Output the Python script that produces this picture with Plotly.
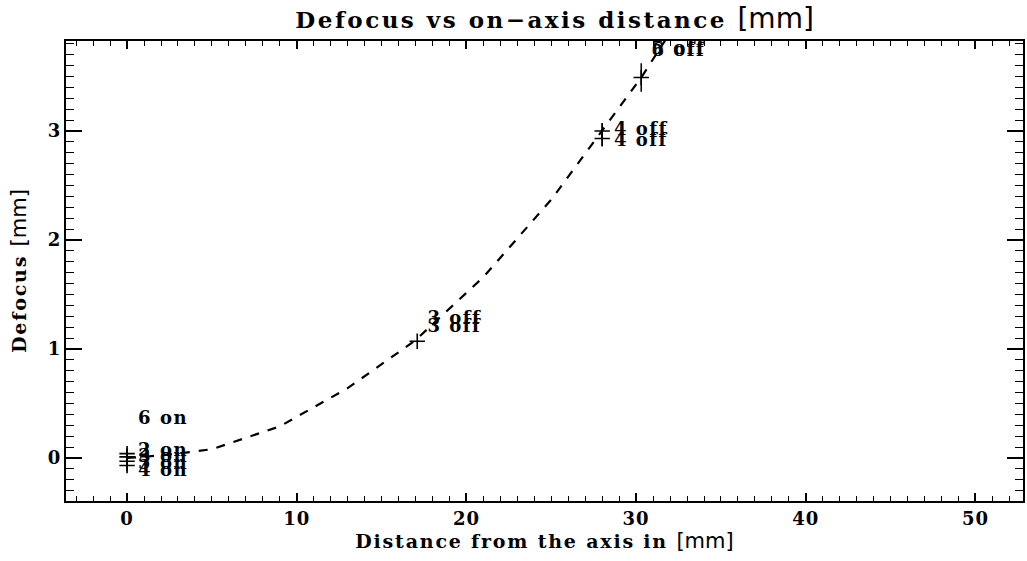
import plotly.graph_objects as go

# Model curve: defocus vs distance from the optical axis
curve_x = [0.0, 1.0, 3.0, 5.0, 9.0, 13.0, 17.0, 21.0, 25.0, 28.0, 30.3, 32.0]
curve_y = [0.0, 0.01, 0.04, 0.08, 0.29, 0.64, 1.08, 1.66, 2.37, 3.00, 3.49, 3.90]

# Measured positions (plus symbols) with their vertical spread
meas_x = [0.0, 0.0, 0.0, 0.0, 17.1, 28.0, 28.0, 30.3]
meas_y = [0.04, 0.01, -0.03, -0.07, 1.07, 3.00, 2.93, 3.49]
meas_err = [0.05, 0.05, 0.05, 0.05, 0.0, 0.07, 0.07, 0.13]

# Point annotations
lbl_text = ["6 on", "2 on", "3 on", "5 on", "4 on",
            "3 off", "3 off", "4 off", "4 off", "5 off", "6 off"]
lbl_x = [0.65, 0.65, 0.65, 0.65, 0.65, 17.7, 17.7, 28.7, 28.7, 30.9, 30.9]
lbl_y = [0.35, 0.06, 0.0, -0.06, -0.12, 1.27, 1.20, 3.00, 2.90, 3.75, 3.73]

x_ticks = [0, 10, 20, 30, 40, 50]
y_ticks = [0, 1, 2, 3]

SERIF = "DejaVu Serif"
SANS = "DejaVu Sans"


def spaced(s, px):
    return "<span style='letter-spacing:%spx'>%s</span>" % (px, s)


def mm(size):
    return ("<span style='font-family:%s;font-weight:normal;font-size:%dpx'>[mm]</span>"
            % (SANS, size))


fig = go.Figure()

fig.add_trace(go.Scatter(
    x=curve_x, y=curve_y, mode="lines",
    line=dict(color="black", width=2.2, dash="9px,9px"),
    hoverinfo="skip", showlegend=False,
))

fig.add_trace(go.Scatter(
    x=meas_x, y=meas_y, mode="markers",
    marker=dict(symbol="cross-thin", size=11, line=dict(color="black", width=1.6)),
    error_y=dict(type="data", array=meas_err, visible=True,
                 color="black", thickness=1.5, width=0),
    showlegend=False,
))

fig.add_trace(go.Scatter(
    x=lbl_x, y=lbl_y, mode="text", text=[spaced(t, 1.5) for t in lbl_text],
    textposition="middle right",
    textfont=dict(family=SERIF, size=18, color="black", weight="bold"),
    showlegend=False, cliponaxis=False,
))

axis_common = dict(
    showgrid=False, zeroline=False, showline=True, linecolor="black",
    linewidth=2, mirror="allticks", ticks="inside", tickcolor="black",
    tickwidth=1.5,
    tickfont=dict(family=SERIF, size=18, color="black", weight="bold"),
)

fig.update_xaxes(
    range=[-3.6, 52.8], tickvals=x_ticks, ticktext=[spaced(str(v), 1) for v in x_ticks],
    ticklen=8,
    minor=dict(dtick=1, ticks="inside", ticklen=5, tickcolor="black", tickwidth=1.3),
    title=dict(text=spaced("Distance from the axis in ", 1.8) + mm(21),
               font=dict(family=SERIF, size=19, color="black", weight="bold"),
               standoff=6),
    **axis_common,
)
fig.update_yaxes(
    range=[-0.395, 3.825], tickvals=y_ticks, ticklen=16,
    minor=dict(dtick=0.1, ticks="inside", ticklen=8, tickcolor="black", tickwidth=1.3),
    title=dict(text=spaced("Defocus ", 1.8) + mm(21),
               font=dict(family=SERIF, size=19, color="black", weight="bold"),
               standoff=16),
    **axis_common,
)

fig.update_layout(
    width=1027, height=561,
    margin=dict(l=66, r=2, t=41, b=60),
    paper_bgcolor="white", plot_bgcolor="white",
    title=dict(
        text=spaced("Defocus vs on\u2212axis distance ", 2.5) + mm(28),
        font=dict(family=SERIF, size=23, color="black", weight="bold"),
        x=0.54, xanchor="center", y=0.965, yanchor="middle",
    ),
)

fig.write_html("out.html")
